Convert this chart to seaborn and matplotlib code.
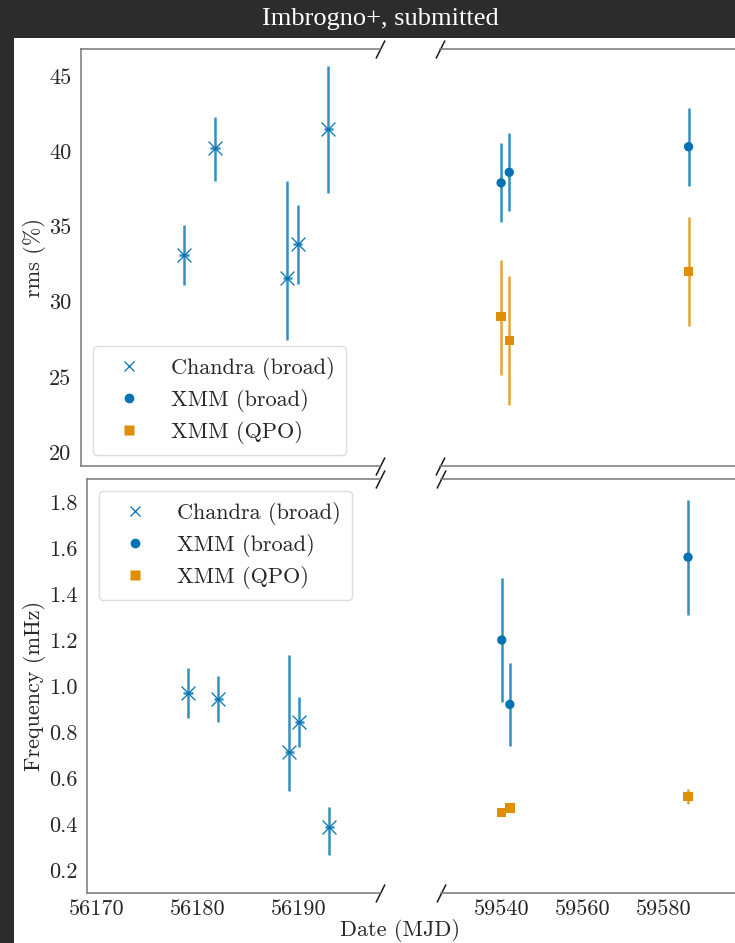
import numpy as np
import pandas as pd
import matplotlib
matplotlib.use("Agg")
import matplotlib.pyplot as plt
import seaborn as sns
from matplotlib.patches import Rectangle
from matplotlib.lines import Line2D

# ---------------- data ----------------
chandra_mjd = [56179, 56182, 56189, 56190, 56193]
chandra_rms = [33.1, 40.2, 31.6, 33.8, 41.5]
chandra_rms_lo = [2.0, 2.2, 4.15, 2.6, 4.3]
chandra_rms_hi = [2.0, 2.05, 6.4, 2.6, 4.2]
chandra_freq = [0.97, 0.945, 0.714, 0.844, 0.386]
chandra_freq_lo = [0.11, 0.10, 0.17, 0.11, 0.12]
chandra_freq_hi = [0.11, 0.10, 0.42, 0.11, 0.09]

xmm_mjd = [59540, 59542, 59586]
xmm_broad_rms = [37.9, 38.6, 40.3]
xmm_broad_rms_err = [2.63, 2.6, 2.6]
xmm_qpo_rms = [29.0, 27.4, 32.0]
xmm_qpo_rms_lo = [3.9, 4.3, 3.6]
xmm_qpo_rms_hi = [3.8, 4.3, 3.6]
xmm_broad_freq = [1.20, 0.92, 1.56]
xmm_broad_freq_err = [0.27, 0.18, 0.25]
xmm_qpo_freq = [0.45, 0.47, 0.52]
xmm_qpo_freq_err = [0.015, 0.01, 0.033]

left_ticks = [56170, 56180, 56190]
right_ticks = [59540, 59560, 59580]
rms_ticks = [20, 25, 30, 35, 40, 45]
freq_ticks = [0.2, 0.4, 0.6, 0.8, 1.0, 1.2, 1.4, 1.6, 1.8]

labels = ["Chandra (broad)", "XMM (broad)", "XMM (QPO)"]

# ---------------- style ----------------
sns.set_theme(style="white", palette="colorblind")
plt.rcParams["font.family"] = ["cmr10", "DejaVu Serif"]
plt.rcParams["mathtext.fontset"] = "cm"
plt.rcParams["axes.formatter.use_mathtext"] = True
plt.rcParams["axes.unicode_minus"] = False
pal = sns.color_palette("colorblind")
BLUE, ORANGE = pal[0], pal[1]
SPINE = "#777777"
FS = 16

W, H = 735, 943
fig = plt.figure(figsize=(W / 100, H / 100), dpi=100, facecolor="#2c2c2c")
fig.patches.append(Rectangle((14 / W, 0), 1, 1 - 38 / H, transform=fig.transFigure,
                             facecolor="white", edgecolor="none", zorder=-5))
fig.text(380 / W, 1 - 19 / H, "Imbrogno+, submitted", color="white",
         family="Liberation Serif", fontsize=19, ha="center", va="center")


def px_axes(x0, x1, y0, y1):
    return fig.add_axes([x0 / W, 1 - y1 / H, (x1 - x0) / W, (y1 - y0) / H])


axTL = px_axes(81, 380, 49, 466)
axTR = px_axes(440, 766, 49, 466)
axBL = px_axes(87, 380, 479, 893)
axBR = px_axes(441, 765, 479, 893)

chandra_df = pd.DataFrame({"mjd": chandra_mjd, "rms": chandra_rms, "freq": chandra_freq})
xmm_df = pd.DataFrame({"mjd": xmm_mjd, "brms": xmm_broad_rms, "qrms": xmm_qpo_rms,
                       "bfreq": xmm_broad_freq, "qfreq": xmm_qpo_freq})

ekw = dict(fmt="none", elinewidth=1.8, alpha=0.8, zorder=2)

for ax, col, lo, hi in [(axTL, "rms", chandra_rms_lo, chandra_rms_hi),
                        (axBL, "freq", chandra_freq_lo, chandra_freq_hi)]:
    ax.errorbar(chandra_df["mjd"], chandra_df[col], yerr=[lo, hi], xerr=0.45,
                ecolor=BLUE, **ekw)
    sns.scatterplot(data=chandra_df, x="mjd", y=col, ax=ax, marker="x", s=100,
                    color=BLUE, linewidth=0.9, zorder=3, legend=False)

for ax, bcol, berr, qcol, qerr in [(axTR, "brms", [xmm_broad_rms_err, xmm_broad_rms_err], "qrms",
                                    [xmm_qpo_rms_lo, xmm_qpo_rms_hi]),
                                   (axBR, "bfreq", [xmm_broad_freq_err, xmm_broad_freq_err], "qfreq",
                                    [xmm_qpo_freq_err, xmm_qpo_freq_err])]:
    ax.errorbar(xmm_df["mjd"], xmm_df[bcol], yerr=berr, ecolor=BLUE, **ekw)
    ax.errorbar(xmm_df["mjd"], xmm_df[qcol], yerr=qerr, ecolor=ORANGE, **ekw)
    sns.scatterplot(data=xmm_df, x="mjd", y=bcol, ax=ax, marker="o", s=45,
                    color=BLUE, edgecolor="none", zorder=3, legend=False)
    sns.scatterplot(data=xmm_df, x="mjd", y=qcol, ax=ax, marker="s", s=45,
                    color=ORANGE, edgecolor="none", zorder=3, legend=False)

for ax in (axTL, axBL):
    ax.set_xlim(56169, 56198)
    ax.set_xticks(left_ticks)
for ax in (axTR, axBR):
    ax.set_xlim(59525, 59605)
    ax.set_xticks(right_ticks)
for ax in (axTL, axTR):
    ax.set_ylim(19.07, 46.8)
    ax.set_yticks(rms_ticks)
for ax in (axBL, axBR):
    ax.set_ylim(0.1, 1.9)
    ax.set_yticks(freq_ticks)

for ax in (axTL, axTR, axBL, axBR):
    ax.set_xlabel("")
    ax.set_ylabel("")
    for s in ax.spines.values():
        s.set_color(SPINE)
        s.set_linewidth(1.1)
    ax.tick_params(axis="x", direction="in", length=4, width=0.9, color=SPINE,
                   labelsize=FS, pad=5)
    ax.tick_params(axis="y", direction="out", length=4, width=0.9, color=SPINE,
                   labelsize=FS, pad=3)
    ax.set_facecolor("white")

for ax in (axTL, axBL):
    ax.spines["right"].set_visible(False)
axTL.set_yticklabels([f"{t:g}" for t in rms_ticks])
axBL.set_yticklabels([f"{t:.1f}" for t in freq_ticks])
axBL.set_xticklabels([str(t) for t in left_ticks])
axBR.set_xticklabels([str(t) for t in right_ticks])
for ax in (axTR, axBR):
    ax.spines["left"].set_visible(False)
    ax.tick_params(axis="y", left=False, labelleft=False)
    ax.spines["right"].set_visible(False)
for ax in (axTL, axTR):
    ax.tick_params(axis="x", labelbottom=False)

axTL.set_ylabel("rms (%)", fontsize=FS, labelpad=2)
axBL.set_ylabel("Frequency (mHz)", fontsize=FS, labelpad=2)
fig.text(400 / W, 1 - 930 / H, "Date (MJD)", fontsize=FS, ha="center", va="center")

# break marks
bk = dict(marker=[(-0.5, -1), (0.5, 1)], markersize=13, linestyle="none",
          color="k", mec="k", mew=1.1, clip_on=False)
for ax, xpos in [(axTL, 1), (axBL, 1), (axTR, 0), (axBR, 0)]:
    ax.plot([xpos, xpos], [0, 1], transform=ax.transAxes, **bk)

# legends
handles = [Line2D([], [], marker="x", color=BLUE, linestyle="none", markersize=7, mew=0.9),
           Line2D([], [], marker="o", color=BLUE, linestyle="none", markersize=7, mec="none"),
           Line2D([], [], marker="s", color=ORANGE, linestyle="none", markersize=7, mec="none")]
lkw = dict(fontsize=FS, frameon=True, fancybox=True, framealpha=1, edgecolor="#dddddd",
           handletextpad=0.8, borderpad=0.5, labelspacing=0.4, handlelength=2.2,
           borderaxespad=0)
axTL.legend(handles, labels, loc="lower left", bbox_to_anchor=(0.04, 0.026), **lkw)
axBL.legend(handles, labels, loc="upper left", bbox_to_anchor=(0.041, 0.971), **lkw)

fig.savefig("out.png", dpi=100, facecolor=fig.get_facecolor())
